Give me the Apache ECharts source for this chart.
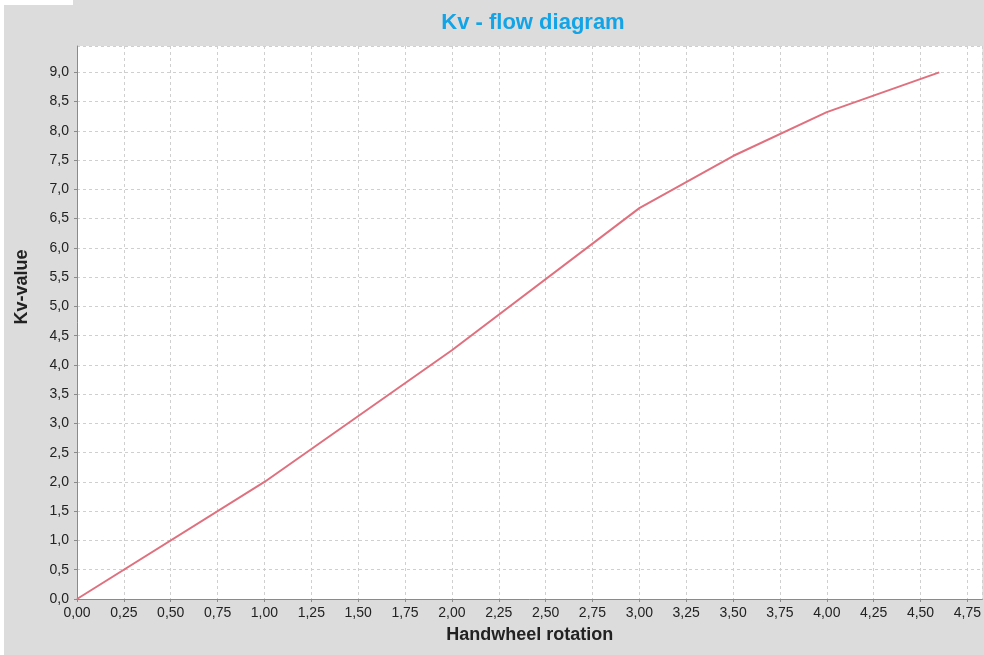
<!DOCTYPE html>
<html><head><meta charset="utf-8">
<script src="https://cdn.jsdelivr.net/npm/echarts@6/dist/echarts.min.js"></script>
<style>html,body{margin:0;padding:0;background:#fff}#c{width:984px;height:655px}</style>
</head><body><div id="c"></div>
<script>
const rotation = [0, 1.0, 2.0, 3.0, 3.5, 4.0, 4.6];
const kvValue  = [0, 2.0, 4.25, 6.68, 7.57, 8.32, 9.0];
const titleText = 'Kv - flow diagram';
const xName = 'Handwheel rotation';
const yName = 'Kv-value';
const fmt = (v, d) => v.toFixed(d).replace('.', ',');
const nameFont = 'Liberation Sans Narrow, Arial Narrow, Liberation Sans, sans-serif';

const chart = echarts.init(document.getElementById('c'));
chart.setOption({
  backgroundColor: '#dcdcdc',
  animation: false,
  title: {
    text: titleText, left: 528, top: 7, textAlign: 'center',
    textStyle: {color: '#12a4e6', fontSize: 22, fontWeight: 'bold', fontFamily: nameFont}
  },
  graphic: [
    {type: 'rect', shape: {x: 0, y: 0, width: 4, height: 655}, style: {fill: '#fff'}, silent: true},
    {type: 'rect', shape: {x: 0, y: 0, width: 73, height: 5}, style: {fill: '#fff'}, silent: true},
    {type: 'text', x: 22, y: 287, rotation: Math.PI / 2,
      style: {text: yName, fill: '#222', font: 'bold 18px ' + nameFont, align: 'center', verticalAlign: 'middle'}}
  ],
  grid: {left: 77, top: 46, right: 0, bottom: 56, backgroundColor: '#fff', show: true, borderWidth: 0},
  xAxis: {
    type: 'value', min: 0, max: 4.83, interval: 0.25,
    name: xName, nameLocation: 'middle', nameGap: 27,
    nameTextStyle: {color: '#222', fontSize: 18, fontWeight: 'bold', fontFamily: nameFont},
    axisLine: {show: true, lineStyle: {color: '#8a8a8a', width: 1}},
    axisTick: {show: true, length: 3, lineStyle: {color: '#8a8a8a'}},
    axisLabel: {color: '#222', fontSize: 14, fontFamily: 'Liberation Sans, Arial, sans-serif', margin: 7, showMaxLabel: false,
      formatter: v => fmt(v, 2)},
    splitLine: {show: true, lineStyle: {color: '#cfcfcf', type: [3, 3], width: 1}}
  },
  yAxis: {
    type: 'value', min: 0, max: 9.45, interval: 0.5,
    axisLine: {show: true, lineStyle: {color: '#8a8a8a', width: 1}},
    axisTick: {show: true, length: 3, lineStyle: {color: '#8a8a8a'}},
    axisLabel: {color: '#222', fontSize: 14, fontFamily: 'Liberation Sans, Arial, sans-serif', margin: 8, showMaxLabel: false,
      formatter: v => fmt(v, 1)},
    splitLine: {show: true, lineStyle: {color: '#cfcfcf', type: [3, 3], width: 1}}
  },
  series: [{
    type: 'line', data: rotation.map((x, i) => [x, kvValue[i]]),
    showSymbol: false, lineStyle: {color: '#e0707e', width: 2}
  }]
});
</script></body></html>
